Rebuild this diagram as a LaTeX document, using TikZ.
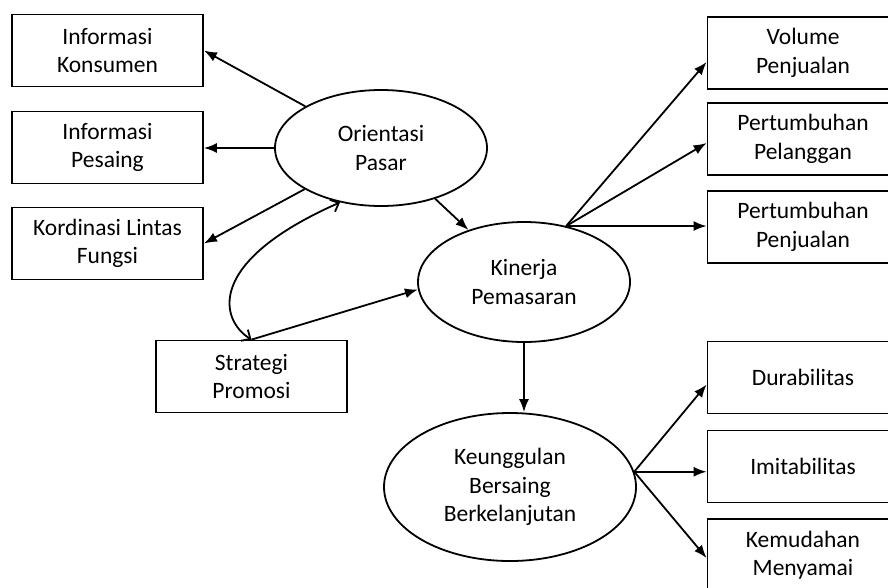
\documentclass[tikz,border=0pt]{standalone}
\usepackage{fontspec}
\setmainfont{Carlito}
\usetikzlibrary{shapes.geometric,arrows.meta}
\begin{document}
\begin{tikzpicture}[x=1pt,y=-1pt,
  lbl/.style={font=\fontsize{23.5}{28.5}\selectfont, align=center, text=black},
  box/.style={lbl, draw, line width=1.8pt, minimum width=191pt, minimum height=72pt, inner sep=0pt},
  oval/.style={lbl, draw, ellipse, line width=1.8pt, inner sep=0pt},
  arr/.style={line width=1.8pt, -{Latex[length=13pt,width=10pt]}},
  barb/.style={line width=1.8pt, {Straight Barb[length=7pt,width=13pt]}-{Straight Barb[length=7pt,width=13pt]}}
]
\useasboundingbox (0,0) rectangle (888,587);
\clip (0,0) rectangle (888,587);

% left boxes
\node[box] (IK) at (107.5,50.5) {Informasi\\Konsumen};
\node[box] (IP) at (107.5,147.5) {Informasi\\Pesaing};
\node[box] (KL) at (107.5,243.5) {Kordinasi Lintas\\Fungsi};
\node[box] (SP) at (251.5,376.5) {Strategi\\Promosi};

% ellipses
\node[oval, minimum width=212pt, minimum height=116pt] (OP) at (381,148) {Orientasi\\Pasar};
\node[oval, minimum width=212pt, minimum height=120pt] (KP) at (524,282) {Kinerja\\Pemasaran};
\node[oval, minimum width=252pt, minimum height=148pt] (KB) at (510,487) {Keunggulan\\Bersaing\\Berkelanjutan};

% right boxes
\node[box] (VP) at (803,53) {Volume\\Penjualan};
\node[box] (PPl) at (803,139) {Pertumbuhan\\Pelanggan};
\node[box] (PPj) at (803,227) {Pertumbuhan\\Penjualan};
\node[box] (DU) at (803,377.5) {Durabilitas};
\node[box] (IM) at (803,466.5) {Imitabilitas};
\node[box] (KM) at (803,555) {Kemudahan\\Menyamai};

% Orientasi Pasar outputs
\draw[arr] (OP) -- (IK.east);
\draw[arr] (OP.west) -- (OP.west -| IP.east);
\draw[arr] (OP) -- (KL.east);
\draw[arr] (OP) -- (KP);

% curved double arrow
\draw[barb] (OP.233) .. controls (205,262) and (220,320) .. (SP.north);

% Strategi -> Kinerja
\draw[arr] (SP.north) -- (KP.184);

% Kinerja outputs
\draw[arr] (KP.53) -- ([yshift=-9pt]VP.west);
\draw[arr] (KP.53) -- ([yshift=-4pt]PPl.west);
\draw[arr] (KP.53) -- (KP.53 -| PPj.west);
\draw[arr] (KP.south) -- (KP.south |- KB.north);

% Keunggulan outputs
\draw[arr] (KB.7) -- ([yshift=-7pt]DU.west);
\draw[arr] (KB.7) -- (KB.7 -| IM.west);
\draw[arr] (KB.7) -- ([yshift=-3pt]KM.west);
\end{tikzpicture}
\end{document}
